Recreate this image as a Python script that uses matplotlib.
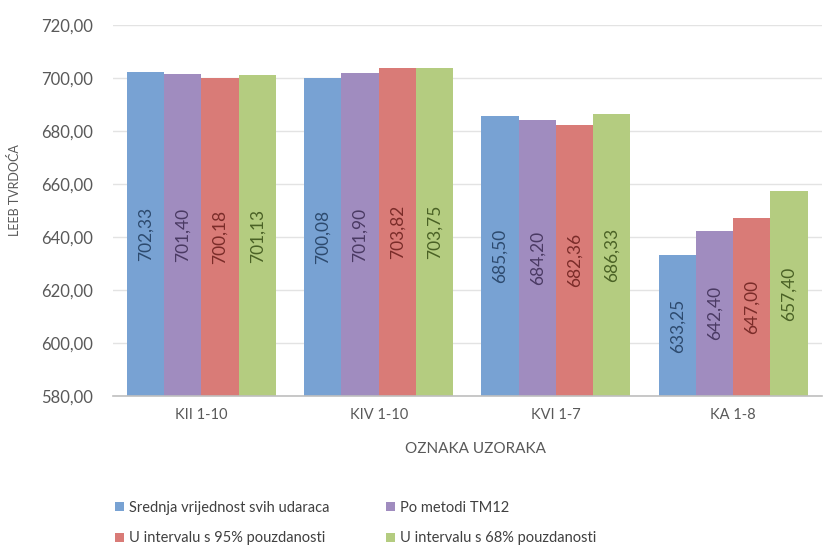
import numpy as np
import matplotlib
matplotlib.use('Agg')
import matplotlib.pyplot as plt

plt.rcParams['font.family'] = ['Lato', 'DejaVu Sans']

uzorci = ['KII 1-10', 'KIV 1-10', 'KVI 1-7', 'KA 1-8']
serije = ['Srednja vrijednost svih udaraca', 'Po metodi TM12',
          'U intervalu s 95% pouzdanosti', 'U intervalu s 68% pouzdanosti']
srednja = [702.33, 700.08, 685.50, 633.25]
tm12 = [701.40, 701.90, 684.20, 642.40]
int95 = [700.18, 703.82, 682.36, 647.00]
int68 = [701.13, 703.75, 686.33, 657.40]

boje = ['#78a2d3', '#a08cbf', '#d97b77', '#b4cc80']
boje_teksta = ['#2d4a6e', '#4a3a63', '#7a2c29', '#4a6125']

fig = plt.figure(figsize=(8.3, 5.55), dpi=100)
ax = fig.add_axes([0.136, 0.2865, 0.854, 0.6685])

x = np.arange(len(uzorci))
w = 0.21
podaci = [srednja, tm12, int95, int68]
for i, vals in enumerate(podaci):
    pos = x + (i - 1.5) * w
    ax.bar(pos, np.array(vals) - 580, w, bottom=580, color=boje[i],
           label=serije[i], zorder=3)
    for p, v in zip(pos, vals):
        ax.text(p, (580 + v) / 2, f'{v:.2f}'.replace('.', ','), rotation=90,
                ha='center', va='center', fontsize=12.5, color=boje_teksta[i], zorder=4)

ax.set_ylim(580, 720)
ax.set_xlim(-0.5, 3.5)
yt = np.arange(580, 721, 20)
ax.set_yticks(yt)
ax.set_yticklabels([f'{v:.2f}'.replace('.', ',') for v in yt])
ax.set_xticks(x)
ax.set_xticklabels(uzorci)
ax.tick_params(length=0, colors='#595959')
ax.tick_params(axis='y', labelsize=12, pad=14)
ax.tick_params(axis='x', labelsize=10.5, pad=9)
ax.grid(axis='y', color='#e3e3e3', linewidth=1, zorder=0)
for s in ['left', 'right', 'top']:
    ax.spines[s].set_visible(False)
ax.spines['bottom'].set_color('#bfbfbf')
ax.spines['bottom'].set_linewidth(1.2)
ax.spines['bottom'].set_zorder(5)

fig.text(475 / 830, 1 - 449 / 555, 'OZNAKA UZORAKA', ha='center', va='center',
         fontsize=11, color='#595959')
fig.text(0.017, 1 - 190 / 555, 'LEEB TVRDOĆA', ha='center', va='center',
         rotation=90, fontsize=9, color='#595959')

handles, labels = ax.get_legend_handles_labels()
red = [0, 2, 1, 3]
fig.legend([handles[k] for k in red], [labels[k] for k in red], ncol=2,
           loc='center left', bbox_to_anchor=(0.123, 1 - 523 / 555),
           frameon=False, fontsize=10.5,
           handlelength=0.6, handleheight=0.6, handletextpad=0.35,
           columnspacing=3.9, labelspacing=1.15, labelcolor='#404040')

fig.savefig('out.png', dpi=100)
